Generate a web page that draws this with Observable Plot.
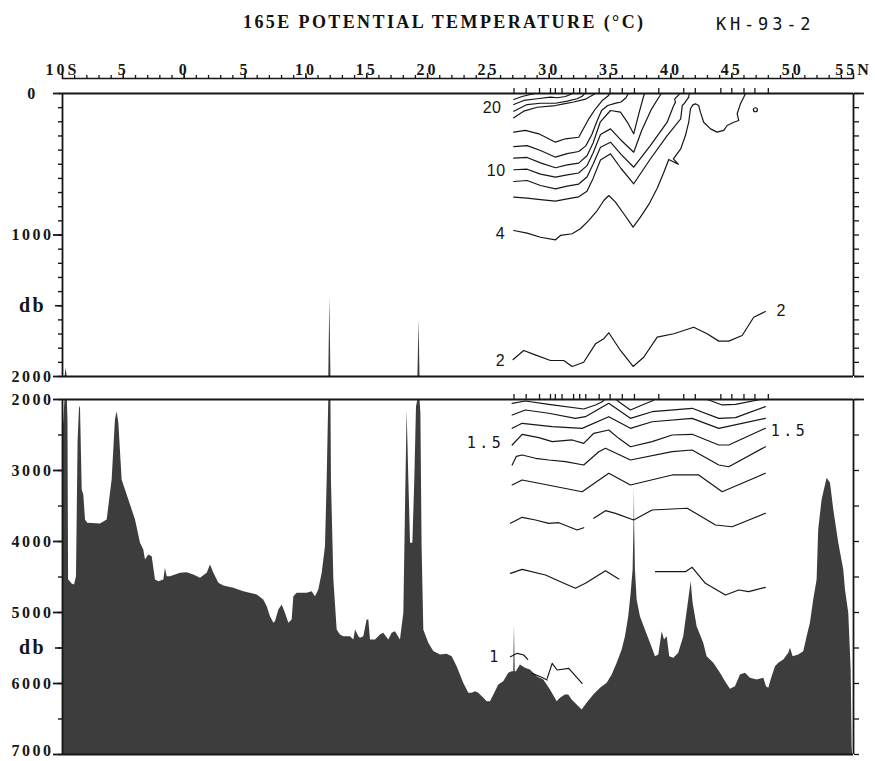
<!DOCTYPE html>
<html><head><meta charset="utf-8">
<script src="https://cdn.jsdelivr.net/npm/d3@7"></script>
<script src="https://cdn.jsdelivr.net/npm/@observablehq/plot@0.6"></script>
<style>
body{margin:0;background:#fff;}
#wrap{position:relative;width:875px;height:761px;overflow:hidden;background:#fff;}
.abs{position:absolute;left:0;}
.abs svg{display:block;}
#title{position:absolute;left:243px;top:12px;line-height:18px;white-space:nowrap;font:bold 18px "Liberation Serif",serif;letter-spacing:2.4px;color:#111;}
#cruise{position:absolute;left:716px;top:14px;line-height:17px;white-space:nowrap;font:17px "DejaVu Sans Mono",monospace;letter-spacing:3.8px;color:#111;}
.latax text{letter-spacing:3px;}
.panel text{letter-spacing:2.5px;}
.panel g[font-family="Liberation Sans"] text{letter-spacing:0.5px;}
.panel g[font-family="DejaVu Sans Mono"] text{letter-spacing:3.5px;}
</style></head>
<body>
<div id="wrap">
  <div id="title">165E POTENTIAL TEMPERATURE (°C)</div>
  <div id="cruise">KH-93-2</div>
  <div id="p0" class="abs" style="top:40px"></div>
  <div id="p1" class="abs" style="top:80px"></div>
  <div id="p2" class="abs" style="top:385px"></div>
</div>
<script>
// ---------- axes ----------
const latMajor = [-10,-5,0,5,10,15,20,25,30,35,40,45,50,55];
const latMajorLabels = ["10S","5","0","5","10","15","20","25","30","35","40","45","50","55N"];
const latMinor = d3.range(-10, 56, 1);
const stations = [27.1,28.1,29.2,30.1,30.5,31.05,32.0,32.5,33.0,34.1,35.0,36.0,37.0,39.0,41.05,42.0,44.1,45.0,46.0,46.9,48.0];

const upperMinor = d3.range(0, 2001, 100);
const upperMajor = [0, 1000, 2000];
const upperDepthLabels = ["0", "1000", "2000"];
const lowerMinor = d3.range(2000, 7001, 500);
const lowerMajor = [2000, 3000, 4000, 5000, 6000, 7000];
const lowerDepthLabels = ["2000", "3000", "4000", "5000", "6000", "7000"];
const upperUnitDepth = 1500;
const lowerUnitDepth = 5500;

// ---------- bottom topography (lat, db) ----------
const bottomProfile = [
[-10.0,2380],[-9.9,2330],[-9.8,2010],[-9.7,1940],[-9.6,2010],[-9.55,2300],[-9.5,4540],[-9.21,4600],[-9.01,4612],[-8.85,4495],[-8.72,2600],[-8.6,2100],[-8.52,2124],[-8.38,3275],[-8.25,3345],[-8.11,3697],[-7.92,3744],[-6.88,3753],[-6.33,3697],[-5.92,3134],[-5.65,2289],[-5.51,2171],[-5.37,2336],[-5.10,3134],[-4.55,3415],[-4.0,3697],[-3.59,4026],[-3.32,4120],[-3.18,4260],[-2.91,4190],[-2.63,4214],[-2.36,4542],[-2.08,4566],[-1.67,4542],[-1.54,4378],[-1.40,4495],[-1.13,4495],[-0.30,4448],[0.24,4439],[0.79,4472],[1.34,4519],[1.89,4448],[2.16,4331],[2.44,4448],[2.85,4589],[3.26,4627],[4.08,4660],[4.90,4706],[6.0,4753],[6.54,4824],[6.82,4918],[7.09,5059],[7.37,5152],[7.50,5129],[7.78,4965],[8.05,4894],[8.32,5012],[8.60,5152],[8.87,5105],[9.01,4777],[9.28,4730],[10.10,4730],[10.51,4706],[10.79,4777],[11.06,4683],[11.34,4448],[11.61,4073],[11.75,3134],[11.88,2010],[11.97,1440],[12.06,2010],[12.10,3134],[12.30,4542],[12.57,5246],[12.84,5317],[13.12,5340],[13.67,5340],[13.94,5387],[14.08,5246],[14.35,5340],[14.49,5364],[14.76,5340],[15.03,5105],[15.17,5105],[15.31,5387],[15.72,5387],[16.13,5317],[16.40,5293],[16.81,5387],[17.09,5293],[17.36,5270],[17.77,5387],[18.05,5012],[18.18,3603],[18.32,2148],[18.46,3134],[18.60,4026],[18.79,4026],[18.95,3134],[19.09,2101],[19.2,2010],[19.3,1600],[19.38,2010],[19.45,2195],[19.55,4073],[19.69,5246],[20.10,5434],[20.51,5551],[21.06,5598],[21.61,5589],[22.02,5623],[22.43,5764],[22.97,5997],[23.39,6138],[23.66,6138],[23.94,6116],[24.21,6138],[24.62,6209],[24.90,6257],[25.17,6257],[25.58,6116],[25.85,6021],[26.26,5975],[26.67,5857],[26.95,5834],[27.08,5834],[27.14,5176],[27.2,5834],[27.30,5834],[27.63,5740],[28.04,5786],[28.45,5810],[29.0,5904],[29.55,5951],[30.10,6092],[30.65,6256],[30.92,6209],[31.33,6162],[31.60,6162],[31.88,6233],[32.29,6303],[32.70,6373],[33.11,6279],[33.66,6162],[34.21,6068],[34.76,5997],[35.17,5880],[35.58,5716],[35.99,5528],[36.26,5341],[36.53,5059],[36.73,4730],[36.89,4401],[36.96,3800],[37.0,3251],[37.02,3800],[37.08,4401],[37.22,4824],[37.49,5059],[37.90,5246],[38.32,5434],[38.73,5623],[39.0,5599],[39.28,5271],[39.47,5388],[39.69,5341],[39.90,5623],[40.23,5645],[40.64,5575],[41.05,5341],[41.46,4824],[41.66,4566],[41.82,4871],[42.15,5200],[42.69,5434],[42.97,5623],[43.52,5716],[44.07,5857],[44.48,5975],[44.89,6082],[45.30,6045],[45.71,5880],[46.12,5857],[46.53,5927],[47.08,5951],[47.63,5927],[47.85,6045],[48.04,6068],[48.23,5951],[48.59,5764],[48.86,5716],[49.27,5669],[49.68,5575],[49.82,5504],[50.04,5623],[50.50,5599],[50.91,5552],[51.19,5341],[51.46,5152],[51.73,4824],[52.01,4542],[52.14,3838],[52.42,3416],[52.83,3110],[53.11,3180],[53.38,3556],[53.79,4025],[54.20,4401],[54.34,4683],[54.61,5011],[54.81,5810],[54.89,6890],[54.92,7000]
];

// ---------- upper isotherms (lat, db) ----------
const th24 = [[27.08,42],[27.77,21],[28.45,7],[28.87,0]];
const th22 = [[27.08,78],[27.9,49],[29.0,37],[30.1,26],[30.65,30],[31.33,21],[31.74,7],[31.9,0]];
const th20 = [[27.08,125],[28.18,78],[29.28,69],[30.51,69],[31.47,54],[32.29,37],[32.7,20],[32.9,0]];
const th18 = [[27.08,172],[27.9,125],[29.0,97],[30.51,85],[31.19,73],[32.01,60],[32.97,40],[33.4,20],[33.8,0]];
const th16 = [[27.08,273],[28.04,261],[29.14,285],[30.51,344],[31.33,320],[32.42,309],[33.25,179],[33.8,108],[34.35,50],[34.8,20],[35.0,0]];
const th14 = [[27.08,375],[28.18,368],[29.28,403],[30.51,450],[31.47,425],[32.42,410],[33.0,370],[33.5,290],[33.9,200],[34.3,120],[34.8,85],[35.4,70],[35.9,60],[36.3,30],[36.5,0]];
const th12 = [[27.08,457],[28.18,452],[29.28,490],[30.51,525],[31.47,505],[32.42,492],[33.1,440],[33.6,350],[34.2,200],[35.03,120],[35.85,132],[36.4,200],[36.94,285],[37.4,130],[37.77,14],[37.85,0]];
const th10 = [[27.08,539],[28.18,535],[29.28,570],[30.51,591],[31.47,575],[32.42,562],[33.1,510],[33.6,420],[34.21,290],[35.03,250],[35.9,330],[36.94,415],[37.6,260],[38.4,110],[39.1,14],[39.2,0]];
const th8 = [[27.08,622],[28.18,615],[29.28,650],[30.51,674],[31.47,655],[32.42,640],[33.1,590],[33.6,500],[34.21,380],[35.03,344],[35.9,430],[36.94,521],[38.32,367],[39.69,203],[40.2,90],[40.37,61],[40.3,40],[40.64,10],[40.7,0]];
const th6 = [[27.08,733],[28.18,740],[29.28,750],[30.51,761],[31.47,745],[32.42,730],[33.1,690],[33.6,600],[34.21,470],[35.03,426],[35.9,530],[36.94,638],[38.32,461],[39.69,297],[40.8,179],[40.93,85],[41.1,70],[41.46,26],[41.5,0]];
const th4 = [[27.08,968],[28.18,987],[29.28,1016],[30.51,1034],[30.92,1003],[31.88,991],[32.56,956],[33.25,897],[33.94,827],[34.48,756],[34.89,721],[35.44,768],[36.12,850],[36.89,945],[37.49,874],[38.18,784],[38.87,670],[39.4,560],[39.82,466],[40.6,500],[40.2,462],[40.8,391],[41.19,297],[41.46,203],[41.6,108],[41.8,80],[42.0,73],[42.28,85],[42.42,132],[42.69,203],[43.25,250],[43.79,273],[44.34,261],[44.62,226],[45.16,203],[45.57,191],[45.44,143],[45.71,73],[45.98,26],[46.12,0]];
const th2 = [[27.03,1880],[27.9,1816],[28.73,1844],[30.1,1887],[31.19,1887],[31.88,1929],[32.83,1899],[33.8,1769],[34.48,1733],[34.89,1691],[35.85,1816],[36.89,1929],[37.76,1864],[38.87,1722],[40.23,1698],[41.87,1652],[42.97,1698],[43.93,1750],[44.75,1750],[45.85,1710],[46.8,1581],[47.76,1541]];
const surfaceRing = [[46.94,115]];

// ---------- deep isotherms (lat, db) ----------
const th18a = [[26.95,2054],[28.04,2021],[29.96,2068],[32.83,2134],[33.8,2077],[34.35,2031],[34.54,2000]];
const th18b = [[35.52,2000],[35.71,2031],[36.67,2148],[37.63,2077],[38.45,2021],[38.64,2000]];
const th18c = [[42.9,2000],[43.11,2007],[44.21,2077],[45.3,2068],[47.35,2000]];
const th17 = [[26.95,2218],[28.04,2148],[29.96,2194],[32.15,2265],[32.97,2242],[34.89,2054],[36.67,2265],[38.45,2172],[41.74,2124],[43.93,2265],[45.3,2256],[47.76,2101]];
const th16d = [[26.95,2406],[27.77,2335],[30.24,2383],[32.7,2406],[34.89,2242],[36.67,2406],[38.45,2313],[41.74,2265],[43.93,2406],[47.76,2265]];
const th15 = [[26.95,2641],[27.77,2490],[29.14,2538],[30.24,2594],[31.88,2570],[32.83,2617],[33.66,2476],[34.89,2430],[35.71,2547],[36.67,2665],[38.45,2594],[40.1,2500],[41.74,2490],[43.93,2641],[44.75,2641],[47.76,2406]];
const th14d = [[26.95,2923],[27.3,2800],[27.77,2782],[28.87,2828],[29.96,2852],[31.33,2876],[32.83,2923],[34.07,2735],[34.62,2687],[36.67,2852],[40.1,2735],[41.74,2711],[43.93,2923],[44.75,2947],[47.76,2665]];
const th13 = [[26.95,3204],[27.77,3134],[29.14,3180],[32.7,3299],[34.89,3039],[36.67,3204],[40.1,3063],[42.28,3063],[44.21,3299],[47.76,3039]];
const th12a = [[26.81,3744],[27.77,3659],[28.87,3697],[29.96,3744],[30.78,3735],[32.29,3838],[32.83,3806]];
const th12b = [[33.66,3673],[34.62,3566],[35.44,3603],[36.94,3697],[38.45,3556],[41.33,3532],[42.28,3627],[43.66,3768],[45.03,3792],[47.76,3603]];
const th11a = [[26.81,4448],[27.77,4392],[29.69,4472],[30.92,4566],[32.15,4659],[32.97,4589],[34.62,4411],[35.71,4528]];
const th11b = [[38.73,4425],[41.19,4425],[41.74,4363],[42.83,4589],[44.48,4754],[45.57,4683],[46.39,4707],[47.76,4645]];
const th10a = [[26.81,5623],[27.36,5575],[27.9,5599],[28.23,5659]];
const th10b = [[28.59,5857],[29.28,5904],[29.83,5951]];
const th10c = [[29.83,5927],[30.24,5716],[30.65,5810],[31.6,5786],[32.7,5997]];

// ---------- contour labels ----------
const upperLabelText = ["20", "10", "4", "2", "2"];
const upperLabelLat = [25.3, 25.64, 25.99, 25.99, 49.05];
const upperLabelDepth = [99, 549, 992, 1892, 1534];
const lowerLabelText = ["1.5", "1.5", "1"];
const lowerLabelLat = [24.76, 49.74, 25.58];
const lowerLabelDepth = [2617, 2453, 5623];

// ---------- tables ----------
const toRows = sets => sets.flatMap(([id, pts]) => pts.map(([lat, depth]) => ({id, lat, depth})));
const bottomRows = bottomProfile.map(([lat, depth]) => ({lat, depth}));
const upperRows = toRows([["24",th24],["22",th22],["20",th20],["18",th18],["16",th16],["14",th14],["12",th12],["10",th10],["8",th8],["6",th6],["4",th4],["2",th2]]);
const lowerRows = toRows([["18a",th18a],["18b",th18b],["18c",th18c],["17",th17],["16",th16d],["15",th15],["14",th14d],["13",th13],["12a",th12a],["12b",th12b],["11a",th11a],["11b",th11b],["10a",th10a],["10b",th10b],["10c",th10c]]);
const upperLabelRows = upperLabelText.map((t, i) => ({t, lat: upperLabelLat[i], depth: upperLabelDepth[i]}));
const lowerLabelRows = lowerLabelText.map((t, i) => ({t, lat: lowerLabelLat[i], depth: lowerLabelDepth[i]}));
const ringRows = surfaceRing.map(([lat, depth]) => ({lat, depth}));

const W = 875, ML = 62, MR = 22;
const INK = "#161616", FILL = "#3d3d3d";
const blank = () => "";

// ---------- latitude axis ----------
const p0 = Plot.plot({
  width: W, height: 46, marginTop: 38, marginBottom: 4, marginLeft: ML, marginRight: MR,
  className: "latax",
  style: {background: "transparent", font: "bold 16px 'Liberation Serif', serif", color: INK, overflow: "visible"},
  x: {domain: [-10, 55], axis: null},
  y: {domain: [0, 1], axis: null},
  marks: [
    Plot.axisX(latMinor, {anchor: "top", tickSize: 4, tickFormat: blank, label: null, strokeWidth: 1.3}),
    Plot.axisX(latMajor, {anchor: "top", tickSize: 6, tickPadding: -2.5, label: null, strokeWidth: 1.4,
      tickFormat: d => latMajorLabels[latMajor.indexOf(d)]}),
    Plot.ruleY([1], {strokeWidth: 1.6, stroke: INK})
  ]
});
document.getElementById("p0").append(p0);

function depthAxes(minor, major, labels, unitDepth, rightMajor, bottomLift) {
  const rows = major.map((v, i) => ({v, t: labels[i]}));
  const last = rows.length - 1;
  return [
    Plot.axisY(minor, {anchor: "left", tickSize: 4, tickFormat: blank, label: null, strokeWidth: 1.4}),
    Plot.axisY(major, {anchor: "left", tickSize: 9, tickFormat: blank, label: null, strokeWidth: 1.8}),
    Plot.axisY([unitDepth], {anchor: "left", tickSize: 7, tickFormat: blank, label: null, strokeWidth: 1.6}),
    Plot.axisY(minor, {anchor: "right", tickSize: 5, tickFormat: blank, label: null, strokeWidth: 1.3}),
    Plot.axisY(rightMajor, {anchor: "right", tickSize: 10, tickFormat: blank, label: null, strokeWidth: 1.8}),
    Plot.axisX(stations, {anchor: "top", tickSize: 6, tickFormat: blank, label: null, strokeWidth: 1.3}),
    Plot.text(rows.slice(0, last), {y: "v", text: "t", frameAnchor: "left", dx: -30, textAnchor: "middle", fill: INK}),
    Plot.text(rows.slice(last), {y: "v", text: "t", frameAnchor: "left", dx: -30, dy: -bottomLift, textAnchor: "middle", fill: INK}),
    Plot.text([{v: unitDepth, t: "db"}], {y: "v", text: "t", frameAnchor: "left", dx: -30, textAnchor: "middle", fontSize: 20, fill: INK})
  ];
}

const panelStyle = {background: "transparent", font: "bold 16px 'Liberation Serif', serif", color: INK, overflow: "visible"};

// ---------- upper panel 0-2000 db ----------
const p1 = Plot.plot({
  width: W, height: 300, marginTop: 13, marginBottom: 4, marginLeft: ML, marginRight: MR,
  className: "panel",
  style: panelStyle,
  x: {domain: [-10, 55], axis: null},
  y: {domain: [0, 2000], reverse: true, axis: null, label: null},
  marks: [
    Plot.areaY(bottomRows, {x: "lat", y1: "depth", y2: 2000, fill: FILL, clip: true}),
    Plot.line(upperRows, {x: "lat", y: "depth", z: "id", stroke: INK, strokeWidth: 1.2, clip: true}),
    Plot.dot(ringRows, {x: "lat", y: "depth", r: 2, stroke: INK, strokeWidth: 1.2, fill: "white"}),
    Plot.text(upperLabelRows, {x: "lat", y: "depth", text: "t", fontFamily: "Liberation Sans", fontWeight: "normal", fontSize: 16, fill: INK}),
    Plot.ruleX([-10, 55], {strokeWidth: 1.8, stroke: INK}),
    Plot.ruleY([0, 2000], {strokeWidth: 1.8, stroke: INK}),
    ...depthAxes(upperMinor, upperMajor, upperDepthLabels, upperUnitDepth, [0, 2000], 0)
  ]
});
document.getElementById("p1").append(p1);

// ---------- lower panel 2000-7000 db ----------
const p2 = Plot.plot({
  width: W, height: 375, marginTop: 14, marginBottom: 6, marginLeft: ML, marginRight: MR,
  className: "panel",
  style: panelStyle,
  x: {domain: [-10, 55], axis: null},
  y: {domain: [2000, 7000], reverse: true, axis: null, label: null},
  marks: [
    Plot.areaY(bottomRows, {x: "lat", y1: "depth", y2: 7000, fill: FILL, clip: true}),
    Plot.line(lowerRows, {x: "lat", y: "depth", z: "id", stroke: INK, strokeWidth: 1.2, clip: true}),
    Plot.text(lowerLabelRows, {x: "lat", y: "depth", text: "t", fontFamily: "DejaVu Sans Mono", fontWeight: "normal", fontSize: 15, fill: INK}),
    Plot.ruleX([-10, 55], {strokeWidth: 1.8, stroke: INK}),
    Plot.ruleY([2000, 7000], {strokeWidth: 1.8, stroke: INK}),
    ...depthAxes(lowerMinor, lowerMajor, lowerDepthLabels, lowerUnitDepth, [2000], 4)
  ]
});
document.getElementById("p2").append(p2);
</script>
</body></html>
